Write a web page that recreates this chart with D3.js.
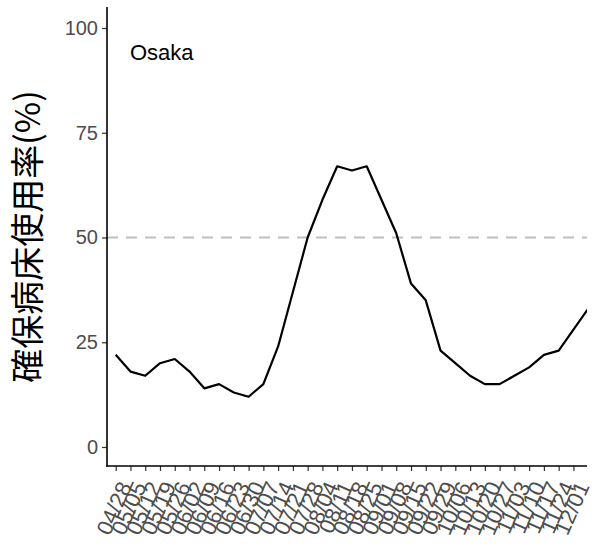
<!DOCTYPE html>
<html>
<head>
<meta charset="utf-8">
<script src="https://cdn.jsdelivr.net/npm/d3@7"></script>
<style>
  body { margin: 0; background: #fff; }
  svg { display: block; font-family: "Liberation Sans", Arial, sans-serif; }
</style>
</head>
<body>
<svg id="chart" width="596" height="548"></svg>
<script>
// Weekly dates (last point is beyond the last labelled tick and is clipped by the panel)
const dates = ["04/28","05/05","05/12","05/19","05/26","06/02","06/09","06/16","06/23","06/30",
  "07/07","07/14","07/21","07/28","08/04","08/11","08/18","08/25","09/01","09/08",
  "09/15","09/22","09/29","10/06","10/13","10/20","10/27","11/03","11/10","11/17",
  "11/24","12/01","12/08"];
const occupancy = [22,18,17,20,21,18,14,15,13,12,
  15,24,37,50,59,67,66,67,59,51,
  39,35,23,20,17,15,15,17,19,22,
  23,28,33];
const tickLabels = ["04/28","05/05","05/12","05/19","05/26","06/02","06/09","06/16","06/23","06/30",
  "07/07","07/14","07/21","07/28","08/04","08/11","08/18","08/25","09/01","09/08",
  "09/15","09/22","09/29","10/06","10/13","10/20","10/27","11/03","11/10","11/17",
  "11/24","12/01"];
const yTicks = [0, 25, 50, 75, 100];
const threshold = 50;
const region = "Osaka";
const yTitle = "確保病床使用率(%)";

const svg = d3.select("#chart");
const panel = { left: 107, right: 587, top: 7, bottom: 466 };

const x = d3.scalePoint().domain(dates).range([115.7, 588.2]);
const y = d3.scaleLinear().domain([0, 100]).range([447, 28]);

svg.append("defs").append("clipPath").attr("id", "clip")
  .append("rect")
  .attr("x", panel.left).attr("y", panel.top)
  .attr("width", panel.right - panel.left).attr("height", panel.bottom - panel.top);

// threshold dashed line
svg.append("line")
  .attr("x1", panel.left).attr("x2", panel.right)
  .attr("y1", y(threshold)).attr("y2", y(threshold))
  .attr("stroke", "#BEBEBE").attr("stroke-width", 1.8)
  .attr("stroke-dasharray", "11,8");

// data line
const line = d3.line().x((d, i) => x(dates[i])).y(d => y(d));
svg.append("path")
  .datum(occupancy)
  .attr("clip-path", "url(#clip)")
  .attr("fill", "none")
  .attr("stroke", "#000")
  .attr("stroke-width", 2.2)
  .attr("stroke-linejoin", "round")
  .attr("d", line);

// Y axis
const yAxis = d3.axisLeft(y).tickValues(yTicks).tickSize(5).tickPadding(4);
const gy = svg.append("g").attr("transform", `translate(${panel.left},0)`).call(yAxis);
gy.select(".domain").remove();
gy.selectAll(".tick line").attr("stroke", "#333").attr("stroke-width", 1.2);
gy.selectAll(".tick text").attr("fill", "#4D4D4D").attr("font-size", 20)
  .attr("font-family", "Liberation Sans, Arial, sans-serif");
svg.append("line")
  .attr("x1", panel.left).attr("x2", panel.left)
  .attr("y1", panel.top).attr("y2", panel.bottom + 0.8)
  .attr("stroke", "#000").attr("stroke-width", 1.6);

// X axis
const xAxis = d3.axisBottom(x).tickValues(tickLabels).tickSize(5).tickPadding(2);
const gx = svg.append("g").attr("transform", `translate(0,${panel.bottom})`).call(xAxis);
gx.select(".domain").remove();
gx.selectAll(".tick line").attr("stroke", "#333").attr("stroke-width", 1.2);
gx.selectAll(".tick text")
  .attr("fill", "#4D4D4D").attr("font-size", 22)
  .attr("font-family", "Liberation Sans, Arial, sans-serif")
  .attr("text-anchor", "end")
  .attr("dy", "0.35em")
  .attr("transform", "translate(9,17) rotate(-66)")
  .attr("y", 0).attr("x", 0);
svg.append("line")
  .attr("x1", panel.left - 0.8).attr("x2", panel.right)
  .attr("y1", panel.bottom).attr("y2", panel.bottom)
  .attr("stroke", "#000").attr("stroke-width", 1.6);

// Y title
svg.append("text")
  .attr("transform", `translate(40,${(panel.top + panel.bottom) / 2}) rotate(-90)`)
  .attr("text-anchor", "middle")
  .attr("font-family", "Noto Sans CJK JP, sans-serif")
  .attr("font-size", 34)
  .attr("fill", "#000")
  .text(yTitle);

// region label
svg.append("text")
  .attr("x", 130).attr("y", 60)
  .attr("font-size", 22)
  .attr("fill", "#000")
  .text(region);
</script>
</body>
</html>
